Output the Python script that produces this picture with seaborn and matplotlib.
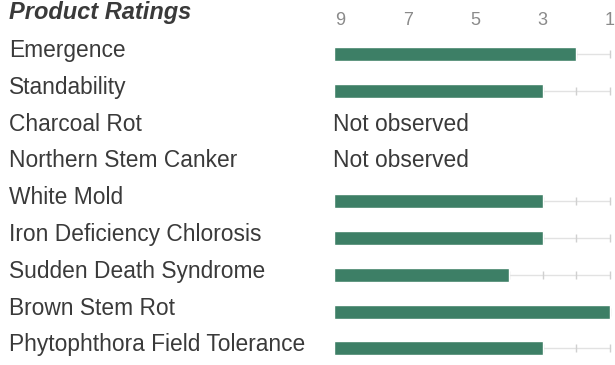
import matplotlib
matplotlib.use("Agg")
import matplotlib.pyplot as plt
import matplotlib.transforms as mtransforms
import seaborn as sns
import pandas as pd
import numpy as np

traits = ["Emergence", "Standability", "Charcoal Rot", "Northern Stem Canker",
          "White Mold", "Iron Deficiency Chlorosis", "Sudden Death Syndrome",
          "Brown Stem Rot", "Phytophthora Field Tolerance"]
ratings = [2, 3, np.nan, np.nan, 3, 3, 4, 1, 3]
tick_values = [9, 7, 5, 3, 1]
scale_points = [9, 8, 7, 6, 5, 4, 3, 2, 1]
missing_text = "Not observed"
title = "Product Ratings"

sns.set_theme(style="white")
plt.rcParams['font.family'] = ['Liberation Sans', 'DejaVu Sans']

W, H = 615, 365
START = 9.18  # bars grow from the left end of the 9..1 scale
BAR = "#3d7f66"
TXT = "#3a3a3a"

fig = plt.figure(figsize=(W / 100, H / 100), dpi=100)
ax = fig.add_axes([330 / W, 0, 285 / W, (H - 36) / H])

df = pd.DataFrame({"trait": traits, "rating": ratings})
df["length"] = START - df["rating"]

# background tracks
for i, r in enumerate(ratings):
    if not np.isnan(r):
        ax.plot([0, START - 1], [i, i], color="#e2e2e2", lw=1, zorder=0)
        ax.scatter([START - s for s in scale_points], [i] * len(scale_points),
                   marker="|", s=30, color="#d0d0d0", linewidths=1, zorder=0)

sns.barplot(data=df, y="trait", x="length", order=traits, orient="h",
            color=BAR, saturation=1, width=0.38, errorbar=None, ax=ax, zorder=2)

ax.set_xlim(-0.12, -0.12 + 285 / 33.75)
ax.set_ylim(8.45, -0.5)
ax.set_xticks([START - v for v in tick_values])
ax.set_xticklabels([str(v) for v in tick_values])
ax.xaxis.tick_top()
ax.tick_params(axis="x", length=0, pad=5, labelsize=13, labelcolor="#8a8a8a")
ax.set_yticks([])
ax.set_xlabel("")
ax.set_ylabel("")
for s in ax.spines.values():
    s.set_visible(False)

trans = mtransforms.blended_transform_factory(fig.transFigure, ax.transData)
for i, t in enumerate(traits):
    ax.text(9 / W, i - 0.1, t, transform=trans, ha="left", va="center",
            fontsize=16.4, color=TXT)
    if np.isnan(ratings[i]):
        ax.text(-0.03, i - 0.1, missing_text, ha="left", va="center",
                fontsize=16.4, color=TXT)

fig.text(9 / W, 1 - 1 / H, title, ha="left", va="top", fontsize=17,
         fontweight="bold", fontstyle="italic", color=TXT)

fig.savefig("out.png", dpi=100)
